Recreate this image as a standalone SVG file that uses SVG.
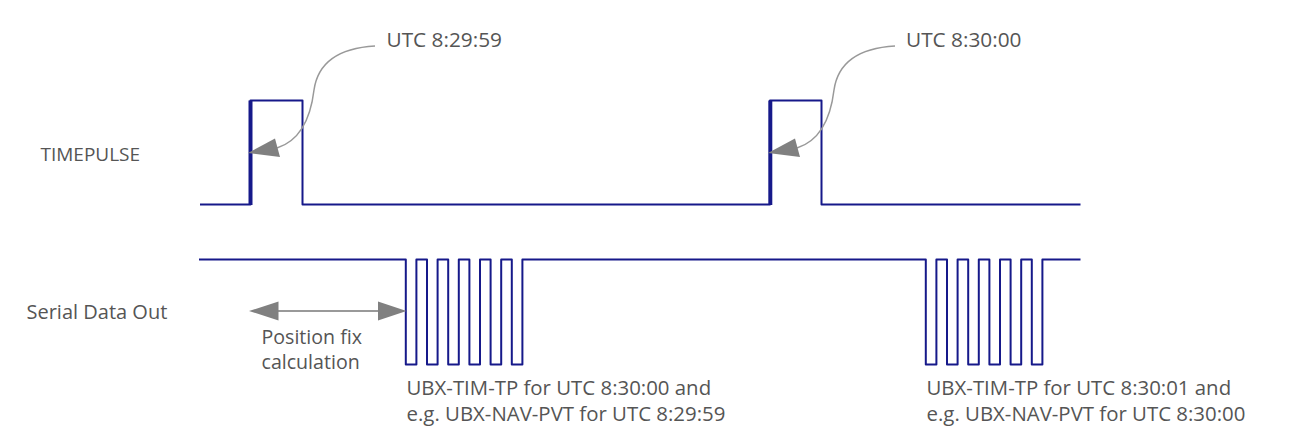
<svg xmlns="http://www.w3.org/2000/svg" width="1301" height="441" viewBox="0 0 1301 441">
<style>
.t{font-family:"Open Sans","Noto Sans",sans-serif;font-size:20px;fill:#555555}
.s18{font-size:19px}
.s19{font-size:19.6px}
.s20{font-size:20.4px}
.s21{font-size:20.8px}
.w{fill:none;stroke:#16198a;stroke-width:2;stroke-linejoin:round}
.e{fill:none;stroke:#16198a;stroke-width:4}
.c{fill:none;stroke:#999999;stroke-width:1.5}
.a{fill:none;stroke:#999999;stroke-width:2}
.h{fill:#808080}
</style>
<rect width="1301" height="441" fill="#ffffff"/>
<g id="timepulse">
<text class="t s18" x="40.5" y="160.5">TIMEPULSE</text>
<path class="w" d="M200,204.5 H250.5 V100.5 H302.5 V204.5 H770 V100.5 H821.5 V204.5 H1080.5"/>
<line class="e" x1="250.5" y1="100.5" x2="250.5" y2="205"/>
<line class="e" x1="770.3" y1="100.5" x2="770.3" y2="205"/>
</g>
<g id="serial">
<text class="t" x="26.5" y="318.5">Serial Data Out</text>
<path class="w" d="M199,259.5 H405.8 V364.5 H416.4 V259.5 H427 V364.5 H437.6 V259.5 H448.2 V364.5 H458.8 V259.5 H469.4 V364.5 H480 V259.5 H490.6 V364.5 H501.2 V259.5 H511.8 V364.5 H522.4 V259.5 H925.8 V364.5 H936.4 V259.5 H947 V364.5 H957.6 V259.5 H968.2 V364.5 H978.8 V259.5 H989.4 V364.5 H1000 V259.5 H1010.6 V364.5 H1021.2 V259.5 H1031.8 V364.5 H1042.4 V259.5 H1080.5"/>
</g>
<g id="label-utc1">
<text class="t s21" x="386.5" y="46.5">UTC 8:29:59</text>
</g>
<g id="label-utc2">
<text class="t s21" x="906" y="46.5">UTC 8:30:00</text>
</g>
<g id="label-fix">
<text class="t s19" x="261.5" y="344">Position fix</text>
<text class="t s19" x="261.5" y="368.5">calculation</text>
</g>
<g id="label-msg1">
<text class="t s20" x="406.5" y="394.5">UBX-TIM-TP for UTC 8:30:00 and</text>
<text class="t s20" x="406.5" y="420.5">e.g. UBX-NAV-PVT for UTC 8:29:59</text>
</g>
<g id="label-msg2">
<text class="t s20" x="926.5" y="394.5">UBX-TIM-TP for UTC 8:30:01 and</text>
<text class="t s20" x="926.5" y="420.5">e.g. UBX-NAV-PVT for UTC 8:30:00</text>
</g>
<g id="connectors">
<path class="c" d="M375,46 C340,48 318,62 314,90 C311,115 302,140 277,148"/>
<polygon class="h" points="248,153 275,138.5 280,157"/>
<path class="c" d="M895,46 C860,48 838,62 834,90 C831,115 822,140 797,148"/>
<polygon class="h" points="768,153 795,138.5 800,157"/>
<line class="a" x1="275" y1="311" x2="380" y2="311"/>
<polygon class="h" points="249,311 278.5,301.5 278.5,320.5"/>
<polygon class="h" points="406.5,311 378,301.5 378,320.5"/>
</g>
</svg>
